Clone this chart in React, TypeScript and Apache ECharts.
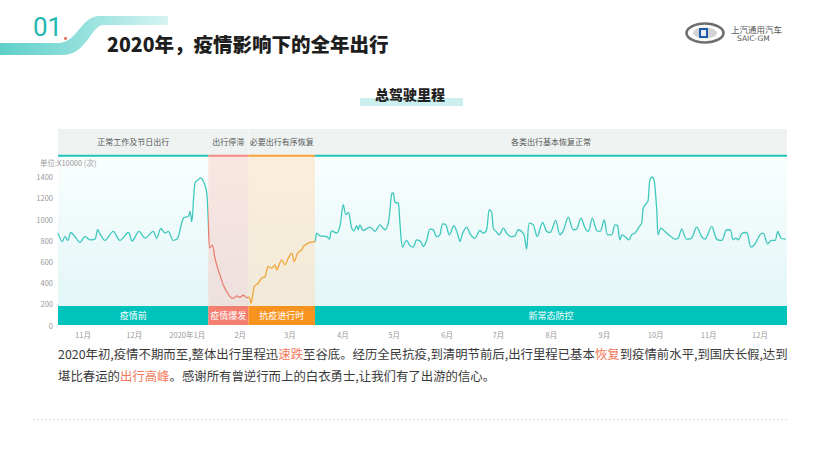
import React, { useEffect, useRef } from 'react';
import * as echarts from 'echarts';

// Day offsets counted from 2019-11-01, and total driving mileage (x10000 trips)
const dayOffsets = [
  -14.6, -12.1, -10.5, -8.9, -7.0, -4.7, -1.8, 1.2, 4.1, 7.0, 8.6, 9.9, 12.9, 17.7, 21.6, 26.5, 28.8, 32.8, 36.3,
  41.1, 43.1, 45.6, 48.0, 49.9, 52.8, 55.4, 58.7, 61.6, 62.6, 63.6, 65.5, 67.5, 68.8, 70.4, 72.3, 73.3,
  74.2, 75.6, 77.2, 79.1, 80.1, 82.1, 84.1, 86.0, 87.9, 89.9, 91.8, 93.8, 95.7, 97.1,
  98.3, 100.2, 102.5, 104.5, 106.5, 108.4, 110.4, 112.3, 113.3, 116.2, 118.2, 120.1, 122.1, 123.6, 125.6, 127.9,
  129.4, 132.8, 135.7,
  136.7, 138.6, 142.5, 144.1, 145.5, 148.4, 150.3, 152.3, 153.8, 155.2, 157.2, 158.5, 160.1, 161.0, 162.0, 163.9,
  167.9, 170.8, 173.7, 176.6, 178.6, 180.6, 181.5, 182.5, 184.4, 185.4, 187.0, 189.3, 191.3, 193.2, 195.2, 197.5,
  199.1, 201.0, 203.0, 204.9, 206.9, 208.8, 210.4, 212.3, 214.3, 217.0, 219.0, 220.5, 222.1, 224.4, 226.8, 229.3,
  232.2, 234.2, 236.1, 237.7, 239.1, 240.0, 241.6, 243.5, 245.9, 247.8, 250.2, 252.7, 254.6, 256.6, 258.0, 259.5,
  261.1, 263.4, 265.7, 268.9, 271.2, 273.2, 276.5, 279.0, 281.0, 283.9, 286.8, 288.8, 291.3, 293.7, 295.6, 297.9,
  300.5, 302.4, 304.9, 306.9, 309.2, 311.2, 312.7, 314.1, 315.4, 318.0, 319.4, 320.9, 322.9, 324.8, 326.8, 327.7,
  329.7, 330.6, 331.6, 333.0, 334.2, 335.6, 336.5, 338.1, 340.4, 343.4, 346.3, 348.2, 350.2, 353.1, 356.0, 359.0,
  361.9, 363.8, 367.7, 370.7, 373.6, 376.5, 378.5, 380.4, 381.8, 383.3, 385.3, 388.2, 390.7, 393.1, 396.0, 397.9,
  400.5, 402.8, 404.8, 406.4, 408.3, 411.1,
];
const mileage = [
  867, 788, 835, 798, 873, 835, 779, 835, 804, 810, 899, 861, 798, 883, 798, 873, 792, 883, 820,
  883, 820, 911, 867, 883, 798, 820, 1009, 1025, 1072, 977, 1340, 1372, 1388, 1356, 1261, 977,
  725, 757, 631, 520, 473, 378, 315, 268, 252, 274, 262, 281, 258, 262,
  205, 362, 394, 442, 457, 552, 536, 568, 520, 615, 568, 631, 678, 599, 678, 710,
  747, 779, 788,
  867, 842, 835, 810, 889, 867, 930, 1135, 1041, 1062, 915, 889, 937, 899, 946, 892,
  924, 883, 946, 899, 962, 1239, 1246, 1157, 1151, 962, 735, 798, 747, 735, 804, 788,
  741, 798, 905, 899, 835, 851, 955, 946, 851, 937, 867, 788, 867, 924, 851, 820,
  892, 867, 899, 1088, 1062, 915, 883, 851, 915, 867, 835, 842, 899, 883, 851, 716,
  962, 946, 835, 968, 883, 873, 987, 851, 892, 1019, 899, 905, 1009, 915, 883, 1009,
  892, 883, 993, 851, 851, 946, 937, 804, 851, 820, 804, 851, 867, 915, 962, 1104,
  1151, 1176, 1372, 1397, 1356, 1088, 851, 915, 883, 842, 810, 820, 905, 810, 820, 924,
  835, 810, 930, 810, 798, 899, 899, 804, 820, 804, 861, 873, 735, 766, 851, 867,
  766, 798, 798, 883, 820, 810,
];

const monthStarts = [0, 30, 61, 92, 121, 152, 182, 213, 243, 274, 305, 335, 366, 396];
const monthLabels = ['11月', '12月', '2020年1月', '2月', '3月', '4月', '5月', '6月', '7月', '8月', '9月', '10月', '11月', '12月'];

// Phase boundaries (day offsets) and their names
const phaseBounds = [-14.6, 73.3, 96.8, 135.7, 411.8];
const headerLabels = ['正常工作及节日出行', '出行停滞', '必要出行有序恢复', '各类出行基本恢复正常'];
const bandLabels = ['疫情前', '疫情爆发', '抗疫进行时', '新常态防控'];

const Y_MAX_LABEL = 1400;
const Y_AXIS_MAX = 1850;
const HEADER_BOTTOM = 1608;
const BAND_TOP = 180;

const lineColors = ['#3ec8bd', '#ea7f6e', '#f0a537', '#3ec8bd'];
const headerLineColors = ['#1cc3ba', '#f28b7f', '#f6a23b', '#1cc3ba'];
const bandColors = ['#00c4bc', '#f47e6f', '#f8931f', '#00c4bc'];
const tintColors = [null, 'rgba(251,196,188,0.42)', 'rgba(253,222,186,0.5)', null];

const FONT = '"Noto Sans CJK SC", "Noto Sans", sans-serif';

let registered = false;
function registerShapes() {
  if (registered) return;
  registered = true;
  const swoosh = echarts.graphic.extendPath(
    'M0,43 L58,43 C78,43 80,16 100,16 L168,16 L168,25 L104,25 C90,25 88,55 62,55 L0,55 Z',
    {}
  );
  echarts.graphic.registerShape('swoosh', swoosh);
}

export default function App() {
  const ref = useRef<HTMLDivElement>(null);

  useEffect(() => {
    if (!ref.current) return;
    registerShapes();
    const chart = echarts.init(ref.current, undefined, { renderer: 'svg' });

    const lineData = dayOffsets.map((d, i) => [d, mileage[i]]);
    const XMIN = phaseBounds[0];
    const XMAX = phaseBounds[phaseBounds.length - 1];

    const areas: any[] = [];
    // plot background gradient
    areas.push([
      {
        xAxis: XMIN,
        yAxis: BAND_TOP,
        itemStyle: {
          color: new echarts.graphic.LinearGradient(0, 0, 0, 1, [
            { offset: 0, color: '#fafefe' },
            { offset: 1, color: '#e3f6f7' },
          ]),
        },
      },
      { xAxis: XMAX, yAxis: HEADER_BOTTOM },
    ]);
    for (let i = 0; i < 4; i++) {
      const x0 = phaseBounds[i];
      const x1 = phaseBounds[i + 1];
      if (tintColors[i]) {
        areas.push([
          { xAxis: x0, yAxis: BAND_TOP, itemStyle: { color: tintColors[i] } },
          { xAxis: x1, yAxis: HEADER_BOTTOM },
        ]);
      }
    }
    for (let i = 0; i < 4; i++) {
      const x0 = phaseBounds[i];
      const x1 = phaseBounds[i + 1];
      areas.push([
        {
          xAxis: x0,
          yAxis: HEADER_BOTTOM,
          name: headerLabels[i],
          itemStyle: { color: '#eef3f2' },
          label: { show: true, position: 'inside', color: '#555', fontSize: 8, fontFamily: FONT },
        },
        { xAxis: x1, yAxis: Y_AXIS_MAX },
      ]);
      areas.push([
        { xAxis: x0, yAxis: HEADER_BOTTOM - 20, itemStyle: { color: headerLineColors[i] } },
        { xAxis: x1, yAxis: HEADER_BOTTOM },
      ]);
      areas.push([
        {
          xAxis: x0,
          yAxis: 0,
          name: bandLabels[i],
          itemStyle: { color: bandColors[i] },
          label: { show: true, position: 'inside', color: '#fff', fontSize: 9, fontFamily: FONT },
        },
        { xAxis: x1, yAxis: BAND_TOP },
      ]);
    }

    const para1 =
      '2020年初,疫情不期而至,整体出行里程迅{h|速跌}至谷底。经历全民抗疫,到清明节前后,出行里程已基本{h|恢复}到疫情前水平,到国庆长假,达到';
    const para2 = '堪比春运的{h|出行高峰}。感谢所有曾逆行而上的白衣勇士,让我们有了出游的信心。';
    const paraStyle = (text: string, y: number) => ({
      type: 'text',
      left: 58,
      top: y,
      z: 10,
      style: {
        text,
        fill: '#3a3a3a',
        fontSize: 12.4,
        fontFamily: FONT,
        rich: { h: { fill: '#f3775a', fontSize: 12.4, fontFamily: FONT } },
      },
    });

    chart.setOption({
      animation: false,
      backgroundColor: '#ffffff',
      grid: { left: 58, right: 33, top: 129, bottom: 137, containLabel: false },
      visualMap: {
        show: false,
        type: 'piecewise',
        seriesIndex: 0,
        dimension: 0,
        pieces: [
          { lt: phaseBounds[1], color: lineColors[0] },
          { gte: phaseBounds[1], lt: phaseBounds[2], color: lineColors[1] },
          { gte: phaseBounds[2], lt: phaseBounds[3], color: lineColors[2] },
          { gte: phaseBounds[3], color: lineColors[3] },
        ],
      },
      xAxis: {
        type: 'value',
        min: XMIN,
        max: XMAX,
        axisLine: { show: false },
        axisTick: { show: false },
        splitLine: { show: false },
        axisLabel: {
          customValues: monthStarts,
          formatter: (v: number) => {
            const i = monthStarts.indexOf(v);
            return i >= 0 ? monthLabels[i] : '';
          },
          color: '#999',
          fontSize: 7.5,
          fontFamily: FONT,
          margin: 6,
        },
      },
      yAxis: {
        type: 'value',
        min: 0,
        max: Y_AXIS_MAX,
        interval: 200,
        axisLine: { show: false },
        axisTick: { show: false },
        splitLine: { show: false },
        axisLabel: {
          formatter: (v: number) => (v <= Y_MAX_LABEL ? String(v) : ''),
          color: '#999',
          fontSize: 7.5,
          fontFamily: FONT,
          margin: 5,
        },
      },
      series: [
        {
          type: 'line',
          data: lineData,
          smooth: 0.3,
          symbol: 'none',
          lineStyle: { width: 1.3 },
          z: 5,
        },
        {
          type: 'line',
          data: [],
          silent: true,
          markArea: { silent: true, data: areas },
        },
      ],
      graphic: [
        {
          type: 'swoosh',
          x: 0,
          y: 0,
          style: {
            fill: new echarts.graphic.LinearGradient(0, 0, 1, 0, [
              { offset: 0, color: '#5fcfca' },
              { offset: 0.45, color: '#8fdfdb' },
              { offset: 1, color: '#d6f4f2' },
            ]),
          },
          z: 1,
        },
        {
          type: 'text',
          left: 33,
          top: 14,
          z: 2,
          style: { text: '01', fill: '#22b7b0', fontSize: 26, fontFamily: 'Roboto, sans-serif' },
        },
        { type: 'circle', shape: { cx: 65.5, cy: 38.5, r: 1.6 }, style: { fill: '#f07a6a' }, z: 2 },
        {
          type: 'text',
          left: 107,
          top: 34,
          z: 2,
          style: {
            text: '2020年，疫情影响下的全年出行',
            fill: '#1e1e1e',
            fontSize: 19.5,
            fontWeight: 900,
            fontFamily: FONT,
          },
        },
        // logo
        { type: 'ellipse', shape: { cx: 705, cy: 33, rx: 18.5, ry: 9.5 }, style: { fill: '#fff', stroke: '#6e6e6e', lineWidth: 2.6 } },
        { type: 'ellipse', shape: { cx: 705, cy: 33, rx: 12, ry: 5.5 }, style: { fill: '#d4d4d4' } },
        { type: 'rect', shape: { x: 699, y: 28, width: 9, height: 10 }, style: { fill: '#1f5aa8' } },
        { type: 'rect', shape: { x: 701, y: 30, width: 5, height: 6 }, style: { fill: '#e8eef8' } },
        {
          type: 'text',
          z: 2,
          style: {
            text: '上汽通用汽车',
            x: 731,
            y: 29,
            textVerticalAlign: 'middle',
            fill: '#555',
            fontSize: 8.5,
            fontFamily: FONT,
          },
        },
        {
          type: 'text',
          z: 2,
          style: {
            text: 'SAIC-GM',
            x: 737,
            y: 38.5,
            textVerticalAlign: 'middle',
            fill: '#555',
            fontSize: 7.5,
            fontFamily: 'DejaVu Sans, sans-serif',
          },
        },
        // subtitle
        { type: 'rect', shape: { x: 360, y: 98, width: 103, height: 8 }, style: { fill: '#cbeeee' } },
        {
          type: 'text',
          left: 375,
          top: 87,
          z: 2,
          style: { text: '总驾驶里程', fill: '#222', fontSize: 14, fontWeight: 900, fontFamily: FONT },
        },
        {
          type: 'text',
          left: 40,
          top: 159,
          z: 20,
          style: { text: '单位:X10000 (次)', fill: '#999', fontSize: 7.5, fontFamily: FONT },
        },
        paraStyle(para1, 348),
        paraStyle(para2, 370),
        {
          type: 'line',
          shape: { x1: 33, y1: 419.5, x2: 787, y2: 419.5 },
          style: { stroke: '#dddddd', lineWidth: 1, lineDash: [2, 2] },
        },
      ],
    });

    return () => chart.dispose();
  }, []);

  return <div ref={ref} style={{ position: 'absolute', left: 0, top: 0, width: 820, height: 462 }} />;
}
